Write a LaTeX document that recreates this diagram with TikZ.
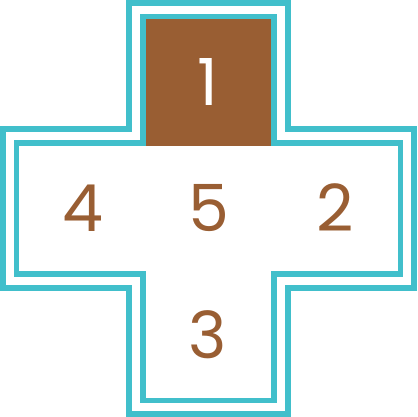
\documentclass[tikz,border=0pt]{standalone}
\usepackage{fontspec}
\setmainfont{Poppins}
\definecolor{teal}{HTML}{41BFCB}
\definecolor{brownc}{HTML}{995E33}
\begin{document}
\begin{tikzpicture}[x=1pt,y=-1pt,
  frame/.style={draw=teal,line width=5.7pt,line join=miter},
  num/.style={text=brownc,font=\fontsize{65}{65}\selectfont,inner sep=0pt},
  wnum/.style={num,text=white}]
\useasboundingbox (0,0) rectangle (417,417);
\draw[frame] (129,2.8) -- (288,2.8) -- (288,129) -- (414.2,129) -- (414.2,288) -- (288,288) -- (288,414.2) -- (129,414.2) -- (129,288) -- (2.8,288) -- (2.8,129) -- (129,129) -- cycle;
\draw[frame] (143,16.6) -- (274,16.6) -- (274,143) -- (400.4,143) -- (400.4,274) -- (274,274) -- (274,400.4) -- (143,400.4) -- (143,274) -- (16.6,274) -- (16.6,143) -- (143,143) -- cycle;
\fill[brownc] (146,19.4) rectangle (271.2,145.6);
\node[wnum] (n1) at (207.5,82.5) {1};
\node[num] (n4) at (82.5,208) {4};
\node[num] (n5) at (208.5,208) {5};
\node[num] (n2) at (335,208) {2};
\node[num] (n3) at (207.5,334.5) {3};
\end{tikzpicture}
\end{document}
